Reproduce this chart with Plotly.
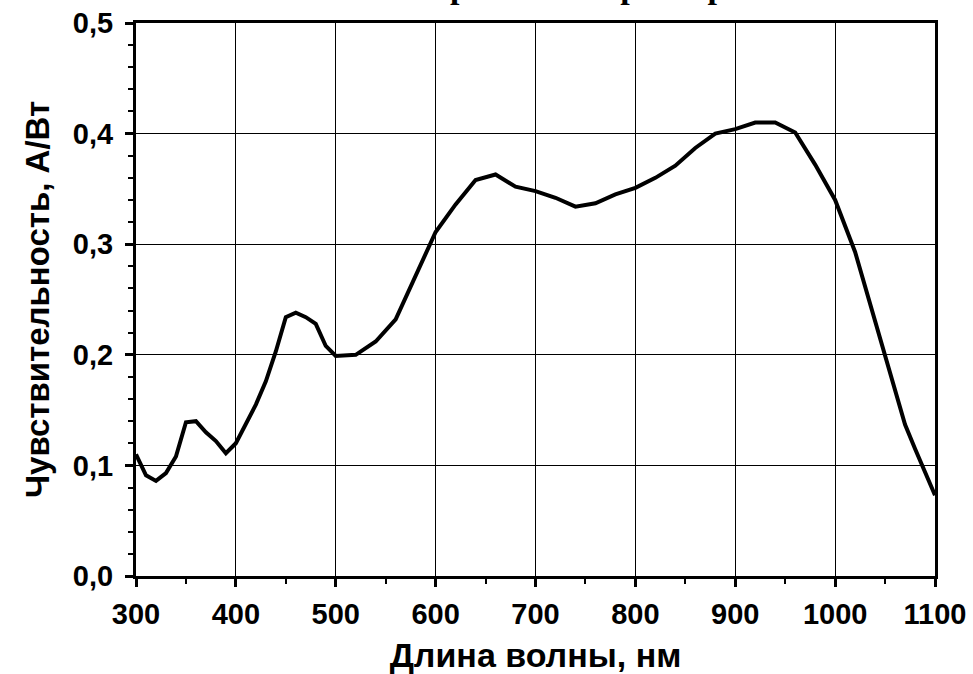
import plotly.graph_objects as go

wavelength = [300, 310, 320, 330, 340, 350, 360, 370, 380, 390, 400, 410, 420, 430, 440,
              450, 460, 470, 480, 490, 500, 520, 540, 560, 580, 600, 620, 640, 660, 680,
              700, 720, 740, 760, 780, 800, 820, 840, 860, 880, 900, 920, 940, 960, 980,
              1000, 1020, 1030, 1040, 1050, 1060, 1070, 1080, 1090, 1100]
sensitivity = [0.110, 0.091, 0.086, 0.093, 0.108, 0.139, 0.140, 0.130, 0.122, 0.111,
               0.120, 0.137, 0.155, 0.176, 0.203, 0.234, 0.238, 0.234, 0.228, 0.208,
               0.199, 0.200, 0.212, 0.232, 0.272, 0.311, 0.336, 0.358, 0.363, 0.352,
               0.348, 0.342, 0.334, 0.337, 0.345, 0.351, 0.360, 0.371, 0.387, 0.400,
               0.404, 0.410, 0.410, 0.401, 0.372, 0.340, 0.293, 0.262, 0.233, 0.200,
               0.168, 0.137, 0.115, 0.093, 0.073]
x_ticks = [300, 400, 500, 600, 700, 800, 900, 1000, 1100]

title_text = "Спектральная характеристика"
x_title = "Длина волны, нм"
y_title = "Чувствительность, А/Вт"

fig = go.Figure()
fig.add_trace(go.Scatter(x=wavelength, y=sensitivity, mode="lines",
                         line=dict(color="black", width=4), showlegend=False))

tickfont = dict(family="Liberation Sans, Arial", size=29, color="black", weight="bold")
axis_common = dict(
    showline=True, linecolor="black", linewidth=3, mirror=True,
    showgrid=True, gridcolor="black", gridwidth=1,
    ticks="outside", ticklen=8, tickwidth=3, tickcolor="black",
    minor=dict(ticks="outside", ticklen=5, tickwidth=2, tickcolor="black", showgrid=False),
    tickfont=tickfont, zeroline=False, automargin=False,
)

fig.update_xaxes(range=[300, 1100], tickvals=x_ticks, ticklabelstandoff=2,
                 title=dict(text=x_title, standoff=20,
                            font=dict(family="Liberation Sans, Arial", size=34, color="black", weight="bold")),
                 **axis_common)
fig.update_yaxes(range=[0, 0.5], dtick=0.1, tickformat=".1f", ticklabelstandoff=6,
                 title=dict(text=y_title, standoff=14,
                            font=dict(family="Liberation Sans, Arial", size=33, color="black", weight="bold")),
                 **axis_common)

fig.add_annotation(text=title_text, xref="paper", yref="paper", x=0.27, y=1.0,
                   xanchor="left", yanchor="bottom", yshift=16, showarrow=False,
                   font=dict(family="Liberation Serif, Times New Roman", size=34,
                             color="black", weight="bold"))

fig.update_layout(
    width=973, height=674,
    margin=dict(l=136, r=38, t=23, b=98, autoexpand=False),
    plot_bgcolor="white", paper_bgcolor="white",
    separators=", ",
)

fig.write_html("out.html", config={"displayModeBar": False},
               post_script="document.body.style.margin='0';document.body.style.overflow='hidden';")
